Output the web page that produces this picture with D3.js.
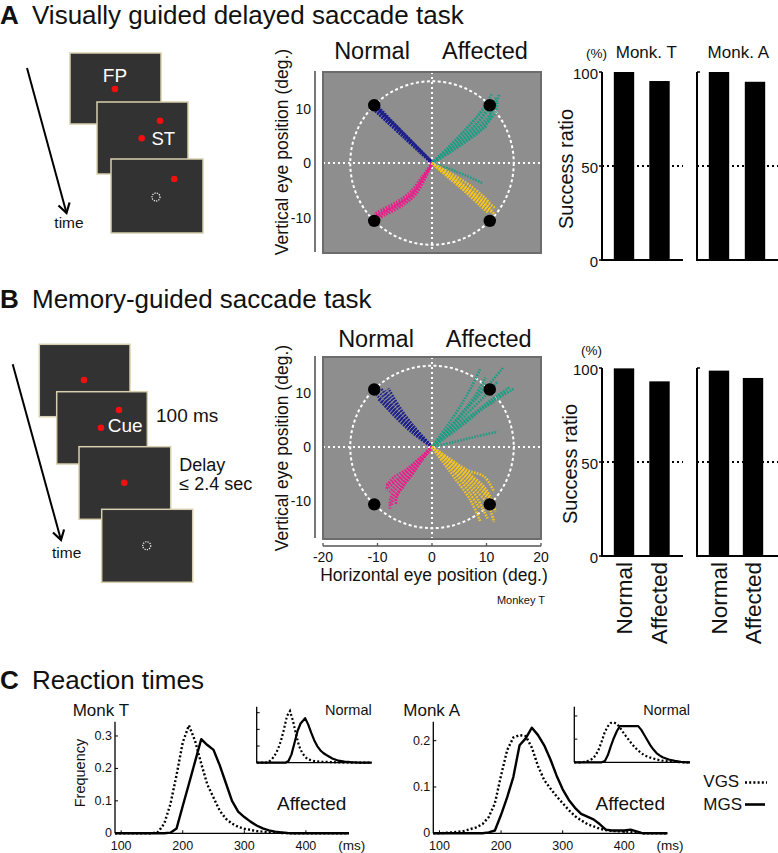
<!DOCTYPE html>
<html><head><meta charset="utf-8">
<script src="https://cdn.jsdelivr.net/npm/d3@7/dist/d3.min.js"></script>
<style>body{margin:0;background:#fff}svg{display:block}</style>
</head><body>
<svg id="fig" width="778" height="853"></svg>
<script>
// ---------------- DATA ----------------
const barCategories = ["Normal", "Affected"];
const vgsSuccessMonkT = [100, 95.2];
const vgsSuccessMonkA = [100, 94.8];
const mgsSuccessMonkT = [99.8, 92.9];
const mgsSuccessMonkA = [98.6, 94.7];
const successTicks = [0, 50, 100];

const eyeTicksY = [-10, 0, 10];
const eyeTicksX = [-20, -10, 0, 10, 20];
const targetPositions = [[-10.6, 10.6], [10.6, 10.6], [-10.6, -10.6], [10.6, -10.6]];

// Visually guided saccade trajectories (deg)
const vgsNormalUp = [
  [[0,0],[-5.2,5.1],[-10.5,10.3]],
  [[0,0],[-5.0,5.0],[-10.2,10.0]],
  [[0,0],[-5.3,4.9],[-10.7,9.9]],
  [[0.2,0],[-5.1,5.2],[-10.4,10.4]],
  [[0,0.2],[-4.9,5.2],[-10.0,10.2]],
  [[0,-0.1],[-5.3,4.8],[-10.6,9.7]],
  [[0,0],[-5.1,4.7],[-10.3,9.6]],
  [[0,0],[-4.8,5.0],[-9.9,10.4]]
];
const vgsNormalDown = [
  [[0,-0.3],[-1.7,-2.8],[-3.6,-5.5],[-6,-7.3],[-9.1,-8.9],[-10.4,-9.7]],
  [[0,0],[-1.5,-3],[-3.4,-5.8],[-5.8,-7.6],[-8.8,-9.2],[-10.2,-10]],
  [[0,0],[-1.9,-2.6],[-3.9,-5.2],[-6.3,-7],[-9.3,-8.6],[-10.6,-9.4]],
  [[0,0],[-1.6,-2.9],[-3.5,-5.6],[-6.1,-7.5],[-9,-9.1],[-10.3,-9.9]],
  [[0,0],[-1.4,-3.1],[-3.2,-6],[-5.6,-7.9],[-8.6,-9.5],[-10.1,-10.3]]
];
const vgsAffectedUp = [
  [[0,0],[3,1.8],[6,3.8],[9,6],[10.5,8],[11,10.5]],
  [[0,0],[3,2.2],[6,4.5],[9,7.2],[11,9.5],[12.3,12.5]],
  [[0,0],[3,2.5],[6,5],[8.5,7.5],[10.5,10],[11.8,12]],
  [[0,0],[3,2],[6,4],[9,6.2],[10.2,6.8]],
  [[0,0],[3,2.4],[6,5.2],[8.8,8],[10.5,10.8]],
  [[0,0],[3.2,1.9],[6.5,4.2],[9.5,6.5],[11.2,8.8]],
  [[0,0],[2.8,2.6],[5.5,5.4],[8,8.2],[10,10.6],[11.3,11.4]],
  [[0,0],[3,2.1],[6.2,4.6],[9.3,7],[11.6,9.2],[12,11.4]],
  [[0,0],[2.9,2.8],[5.8,5.8],[8.4,8.6],[10.2,11.2],[11,12.8]],
  [[0,0],[3,-1],[6,-2.2],[9.3,-3.7]]
];
const vgsAffectedDown = [
  [[0,0],[3,-2.3],[6,-4.8],[9,-7.3],[11.2,-9.2]],
  [[0,0],[3,-2],[6,-4.3],[9,-6.8],[11,-8.6]],
  [[0,0],[3.2,-2.6],[6.2,-5.2],[9,-7.6],[10.6,-9]],
  [[0,0],[3,-2.2],[6,-4.5],[9.2,-7],[11.5,-9.4]],
  [[0,0],[3.3,-1.8],[6.5,-3.8],[9.3,-6],[10.6,-7.3]],
  [[0,0],[2.8,-2.5],[5.8,-5],[8.8,-7.8],[10.3,-9.1]],
  [[0,0],[3,-2.4],[6,-4.6],[8.6,-6.6],[10,-7.6]],
  [[0,0],[3.1,-2.1],[6.3,-4.4],[9.4,-6.6],[11.8,-8.4]]
];
// Memory-guided saccade trajectories (deg)
const mgsNormalUp = [
  [[0,0],[-3.4,3.8],[-6.5,7.6],[-8.6,10.4]],
  [[0,0],[-3.5,3.3],[-6.8,6.9],[-9.8,10.2]],
  [[0,0],[-3.3,2.8],[-6.6,6.2],[-8.8,8.6]],
  [[0,0],[-3.6,3.0],[-7.2,6.8],[-10.2,9.6]],
  [[0,0],[-3.2,3.6],[-6,7.4],[-8,10.8]],
  [[0,0],[-3.5,2.5],[-7,5.8],[-9.3,8.4]],
  [[0,0],[-3.4,3.2],[-6.9,7.2],[-9.4,10.9]],
  [[0,0],[-3.6,2.9],[-7.4,6.4],[-9.9,8.9]]
];
const mgsNormalDown = [
  [[0,0],[-2,-2],[-4,-4],[-6,-5.8],[-8.2,-7.8]],
  [[0,0],[-2,-2.5],[-4.2,-5],[-6.2,-7.2],[-7.6,-9.5],[-7.7,-11.4]],
  [[0,0],[-1.8,-2.4],[-3.8,-5],[-5.8,-7.5],[-6.8,-10.2]],
  [[0,0],[-2.2,-2.2],[-4.5,-4.4],[-6.8,-6.2],[-8.4,-7]],
  [[0,0],[-2,-2.6],[-4,-5.3],[-5.6,-7.8],[-7,-9.2],[-7.4,-10.8]],
  [[0,0],[-2.1,-2.3],[-4.4,-4.8],[-6.6,-7],[-7.8,-8.4]],
  [[0,0],[-1.9,-2.5],[-3.7,-5.2],[-5.3,-7.2],[-6.5,-9.3],[-6.6,-10.6]],
  [[0,0],[-2.3,-2.1],[-4.8,-4.2],[-7,-5.6],[-8,-6.8],[-8.4,-8]]
];
const mgsAffectedUp = [
  [[0,0],[2.5,3.5],[5,7.2],[7.2,11],[8.9,14.5]],
  [[0,0],[3,3.4],[6.5,7.2],[10,11],[13.1,14.7]],
  [[0,0],[3.5,3],[7.5,6],[11.5,8.6],[15.1,10.8]],
  [[0,0],[3.2,3],[6.8,6.5],[9.8,9.5],[12,12]],
  [[0,0],[4,0.9],[8,1.9],[12,2.8]],
  [[0,0],[3.5,2.6],[7,5.2],[9.5,7.2],[11.4,8.3]],
  [[0,0],[3,3.2],[6,6.6],[8.5,9.8],[10,11.8]],
  [[0,0],[3.4,2.4],[6.8,5],[10,7.8],[13.6,10.2]],
  [[0,0],[2.8,3],[5.6,6.4],[8,9.6],[9.8,12.8]],
  [[0,0],[3.6,2.8],[7.2,5.8],[10.8,8.6],[14.2,11]]
];
const mgsAffectedDown = [
  [[0,0],[3,-2],[6.5,-4.3],[9.6,-5.5],[11.4,-8.3]],
  [[0,0],[2,-2.8],[4,-5.5],[7.1,-9.9],[8.9,-13.9]],
  [[0,0],[2.8,-2.5],[6,-5.5],[8.6,-8.6],[10.2,-10.5],[11.4,-13.9]],
  [[0,0],[2.6,-2.6],[5.4,-5.6],[7.8,-8.6],[9.4,-11.6],[10.2,-13.2]],
  [[0,0],[3,-2.2],[6.2,-4.8],[8.8,-7],[10.6,-9.6]],
  [[0,0],[2.4,-2.8],[5,-5.8],[7,-8.6],[8.6,-11.2]],
  [[0,0],[3.2,-2.4],[6.8,-5],[9.4,-7.2],[11,-9.8],[11.6,-12]],
  [[0,0],[2.7,-2.2],[5.6,-4.6],[8.4,-7.4],[10,-9.2]]
];

// Reaction time distributions [ms, frequency]
const rtTicksMs = [100, 200, 300, 400];
const rtFreqTicksT = [0, 0.1, 0.2, 0.3];
const rtFreqTicksA = [0, 0.1, 0.2];
const insetTicksT = [0.1, 0.2, 0.3];
const insetTicksA = [0.1, 0.2];

const rtMonkTAffectedVGS = [[90,0],[150,0],[160,0.004],[170,0.03],[180,0.09],[190,0.18],[200,0.28],[210,0.333],[220,0.285],[230,0.215],[240,0.15],[250,0.11],[260,0.07],[270,0.045],[280,0.03],[290,0.02],[300,0.014],[320,0.007],[340,0.003],[360,0.001],[380,0],[470,0]];
const rtMonkTAffectedMGS = [[90,0],[170,0],[180,0.002],[190,0.015],[200,0.084],[210,0.152],[220,0.221],[230,0.29],[240,0.272],[250,0.257],[260,0.21],[270,0.155],[280,0.1],[290,0.067],[300,0.05],[310,0.036],[320,0.024],[330,0.015],[340,0.009],[350,0.005],[360,0.003],[370,0.001],[380,0],[470,0]];
const rtMonkTNormalVGS = [[90,0],[120,0],[130,0.005],[140,0.02],[150,0.045],[160,0.08],[170,0.13],[180,0.2],[190,0.28],[200,0.31],[210,0.25],[220,0.17],[230,0.1],[240,0.06],[250,0.035],[260,0.02],[280,0.01],[300,0.006],[330,0.004],[360,0.002],[400,0],[470,0]];
const rtMonkTNormalMGS = [[90,0],[185,0],[195,0.01],[205,0.05],[215,0.12],[225,0.19],[235,0.235],[250,0.267],[260,0.23],[270,0.18],[280,0.135],[290,0.1],[300,0.075],[310,0.058],[320,0.046],[340,0.025],[360,0.012],[380,0.006],[400,0.003],[430,0],[470,0]];
const rtMonkAAffectedVGS = [[90,0],[100,0],[120,0.002],[140,0.005],[160,0.013],[170,0.02],[180,0.035],[190,0.065],[200,0.125],[210,0.18],[220,0.207],[230,0.212],[240,0.21],[250,0.185],[260,0.145],[270,0.115],[280,0.097],[290,0.08],[300,0.065],[310,0.05],[320,0.037],[330,0.028],[340,0.02],[350,0.015],[360,0.01],[370,0.007],[380,0.005],[400,0.004],[420,0.002],[430,0],[470,0]];
const rtMonkAAffectedMGS = [[90,0],[170,0],[180,0.002],[190,0.006],[200,0.04],[210,0.078],[220,0.122],[230,0.19],[240,0.205],[250,0.228],[260,0.212],[270,0.19],[280,0.16],[290,0.125],[300,0.095],[310,0.072],[320,0.055],[330,0.042],[340,0.036],[350,0.03],[360,0.02],[370,0.008],[380,0.006],[400,0.006],[410,0.008],[420,0.004],[430,0],[470,0]];
const rtMonkANormalVGS = [[90,0],[110,0],[130,0.003],[150,0.015],[160,0.03],[170,0.055],[180,0.09],[190,0.13],[200,0.155],[210,0.17],[220,0.172],[230,0.165],[240,0.15],[250,0.13],[260,0.112],[270,0.095],[280,0.078],[290,0.063],[300,0.05],[320,0.03],[340,0.02],[360,0.012],[380,0.007],[400,0.004],[420,0.002],[440,0],[470,0]];
const rtMonkANormalMGS = [[90,0],[180,0],[190,0.005],[200,0.03],[210,0.07],[220,0.105],[230,0.135],[240,0.156],[300,0.156],[310,0.14],[320,0.118],[330,0.095],[340,0.073],[350,0.055],[360,0.04],[370,0.03],[380,0.022],[400,0.012],[420,0.006],[440,0.002],[460,0],[470,0]];

// ---------------- DRAWING ----------------
const FONT = "'Liberation Sans', Arial, Helvetica, sans-serif";
const svg = d3.select("#fig").style("font-family", FONT);
svg.append("rect").attr("width", 778).attr("height", 853).attr("fill", "#fff");

function txt(x, y, s, size, opts = {}) {
  const t = svg.append("text").attr("x", x).attr("y", y).attr("font-size", size)
    .attr("fill", opts.fill || "#111").attr("text-anchor", opts.anchor || "start").text(s);
  if (opts.bold) t.attr("font-weight", "bold");
  if (opts.rotate) t.attr("transform", `rotate(-90,${x},${y})`);
  if (opts.baseline) t.attr("dominant-baseline", opts.baseline);
  return t;
}

// Titles
txt(0, 24, "A", 26, {bold: true});
txt(32, 24, "Visually guided delayed saccade task", 26);
txt(0, 308, "B", 26, {bold: true});
txt(32, 308, "Memory-guided saccade task", 26);
txt(0, 689, "C", 26, {bold: true});
txt(32, 689, "Reaction times", 26);

// ---- Schematics ----
const RED = "#f01010";
function screen(x, y, w, h) {
  svg.append("rect").attr("x", x).attr("y", y).attr("width", w).attr("height", h)
    .attr("fill", "#323232").attr("stroke", "#d8cfae").attr("stroke-width", 1.5);
}
function dot(x, y) { svg.append("circle").attr("cx", x).attr("cy", y).attr("r", 3.3).attr("fill", RED); }
function ring(x, y) {
  svg.append("circle").attr("cx", x).attr("cy", y).attr("r", 4).attr("fill", "none")
    .attr("stroke", "#eee").attr("stroke-width", 1.3).attr("stroke-dasharray", "1.2,1.2");
}
function arrow(x1, y1, x2, y2) {
  svg.append("line").attr("x1", x1).attr("y1", y1).attr("x2", x2).attr("y2", y2)
    .attr("stroke", "#000").attr("stroke-width", 2);
  const a = Math.atan2(y2 - y1, x2 - x1), L = 11, sp = 0.55;
  const p = [[x2 - L * Math.cos(a - sp), y2 - L * Math.sin(a - sp)], [x2, y2], [x2 - L * Math.cos(a + sp), y2 - L * Math.sin(a + sp)]];
  svg.append("path").attr("d", d3.line()(p)).attr("fill", "none").attr("stroke", "#000").attr("stroke-width", 2.2);
}
// A schematic
screen(70, 53, 91, 71); txt(115, 82, "FP", 19, {fill: "#fff", anchor: "middle"}); dot(115, 89);
screen(97, 102, 91, 72); dot(160, 120.7); dot(141.7, 138.3); txt(151.5, 145, "ST", 18.5, {fill: "#fff"});
screen(111, 159, 92, 74); dot(174.3, 179); ring(156, 197);
arrow(27, 68, 66.5, 213);
txt(69, 228, "time", 15.5, {anchor: "middle"});
// B schematic
screen(39.3, 344.3, 90.7, 72.4); dot(84, 380);
screen(56.7, 391.7, 90.6, 72.3); dot(119, 410); dot(101, 427.7); txt(107.7, 431.7, "Cue", 19, {fill: "#fff"});
screen(79, 446.7, 91.7, 72.6); dot(124.3, 482.7);
screen(101.7, 509.3, 91, 73); ring(146.7, 545.7);
arrow(12.7, 364.3, 61, 540);
txt(66.7, 557.5, "time", 15.5, {anchor: "middle"});
txt(156, 421.7, "100 ms", 19);
txt(179.3, 470.5, "Delay", 18);
txt(179.3, 489.5, "\u2264 2.4 sec", 18);

// ---- Scatter panels ----
const COL = {up: "#1c1f8c", down: "#ec1c8c", affUp: "#1b9e84", affDown: "#f7c51e"};
function scatter(id, box, yDom, sets, showX) {
  const x = d3.scaleLinear().domain([-20, 20]).range([box.x0, box.x1]);
  const y = d3.scaleLinear().domain(yDom).range([box.y1, box.y0]);
  const g = svg.append("g");
  g.append("clipPath").attr("id", id).append("rect")
    .attr("x", box.x0).attr("y", box.y0).attr("width", box.x1 - box.x0).attr("height", box.y1 - box.y0);
  g.append("rect").attr("x", box.x0).attr("y", box.y0).attr("width", box.x1 - box.x0).attr("height", box.y1 - box.y0)
    .attr("fill", "#8e8e8e");
  const inner = g.append("g").attr("clip-path", `url(#${id})`);
  inner.append("line").attr("x1", x(0)).attr("x2", x(0)).attr("y1", box.y0).attr("y2", box.y1)
    .attr("stroke", "#fff").attr("stroke-width", 2).attr("stroke-dasharray", "2,3");
  inner.append("line").attr("x1", box.x0).attr("x2", box.x1).attr("y1", y(0)).attr("y2", y(0))
    .attr("stroke", "#fff").attr("stroke-width", 2).attr("stroke-dasharray", "2,3");
  inner.append("ellipse").attr("cx", x(0)).attr("cy", y(0)).attr("rx", x(15) - x(0)).attr("ry", y(0) - y(15))
    .attr("fill", "none").attr("stroke", "#fff").attr("stroke-width", 2).attr("stroke-dasharray", "3,2.5");
  const line = d3.line().x(d => x(d[0])).y(d => y(d[1])).curve(d3.curveCatmullRom);
  sets.forEach(s => {
    inner.selectAll(null).data(s.data).enter().append("path").attr("d", line)
      .attr("fill", "none").attr("stroke", s.color).attr("stroke-width", 2.6).attr("stroke-dasharray", "1.6,1.3");
  });
  inner.selectAll(null).data(targetPositions).enter().append("circle")
    .attr("cx", d => x(d[0])).attr("cy", d => y(d[1])).attr("r", 6.2).attr("fill", "#000");
  g.append("rect").attr("x", box.x0).attr("y", box.y0).attr("width", box.x1 - box.x0).attr("height", box.y1 - box.y0)
    .attr("fill", "none").attr("stroke", "#6c6c6c").attr("stroke-width", 2);
  // left y axis line
  g.append("line").attr("x1", 315).attr("x2", 315).attr("y1", box.y0 - 1).attr("y2", box.y1 - 1)
    .attr("stroke", "#555").attr("stroke-width", 1.6);
  eyeTicksY.forEach(v => {
    g.append("text").attr("x", 311).attr("y", y(v)).attr("dominant-baseline", "central").attr("text-anchor", "end")
      .attr("font-size", 14).attr("fill", "#111").text(v);
  });
  if (showX) {
    const ay = box.y1 + 7;
    g.append("line").attr("x1", x(-20)).attr("x2", x(20)).attr("y1", ay).attr("y2", ay).attr("stroke", "#555").attr("stroke-width", 1.6);
    eyeTicksX.forEach(v => {
      g.append("line").attr("x1", x(v)).attr("x2", x(v)).attr("y1", ay).attr("y2", ay - 3).attr("stroke", "#555").attr("stroke-width", 1.3);
      g.append("text").attr("x", x(v)).attr("y", ay + 16).attr("text-anchor", "middle").attr("font-size", 14).attr("fill", "#111").text(v);
    });
  }
  return {x, y};
}
scatter("clipA", {x0: 323, x1: 541, y0: 72, y1: 253}, [-16.5, 16.7],
  [{data: vgsNormalUp, color: COL.up}, {data: vgsNormalDown, color: COL.down},
   {data: vgsAffectedUp, color: COL.affUp}, {data: vgsAffectedDown, color: COL.affDown}], false);
scatter("clipB", {x0: 323, x1: 541, y0: 357, y1: 539}, [-17, 16.6],
  [{data: mgsNormalUp, color: COL.up}, {data: mgsNormalDown, color: COL.down},
   {data: mgsAffectedUp, color: COL.affUp}, {data: mgsAffectedDown, color: COL.affDown}], true);

txt(372, 59, "Normal", 23.5, {anchor: "middle"});
txt(485, 59, "Affected", 23.5, {anchor: "middle"});
txt(376, 347, "Normal", 23.5, {anchor: "middle"});
txt(488.7, 347, "Affected", 23.5, {anchor: "middle"});
txt(282, 152, "Vertical eye position (deg.)", 17.5, {anchor: "middle", rotate: true, baseline: "central"});
txt(282, 448, "Vertical eye position (deg.)", 17.5, {anchor: "middle", rotate: true, baseline: "central"});
txt(434, 581, "Horizontal eye position (deg.)", 17.5, {anchor: "middle"});
txt(545, 604, "Monkey T", 11, {anchor: "end"});

// ---- Success ratio bars ----
function bars(axisX, y0, y100, centers, values, extent, firstPanel) {
  const y = d3.scaleLinear().domain([0, 100]).range([y0, y100]);
  const x = d3.scalePoint().domain(barCategories).range(centers);
  const g = svg.append("g");
  g.selectAll(null).data(values).enter().append("rect")
    .attr("x", (d, i) => x(barCategories[i]) - 10.2).attr("width", 20.4)
    .attr("y", d => y(d)).attr("height", d => y0 - y(d)).attr("fill", "#000");
  g.append("line").attr("x1", axisX).attr("x2", axisX + extent).attr("y1", y(50)).attr("y2", y(50))
    .attr("stroke", "#000").attr("stroke-width", 2).attr("stroke-dasharray", "2,3");
  g.append("line").attr("x1", axisX).attr("x2", axisX).attr("y1", y(100)).attr("y2", y0).attr("stroke", "#000").attr("stroke-width", 2);
  g.append("line").attr("x1", axisX - 1).attr("x2", axisX + extent).attr("y1", y0).attr("y2", y0).attr("stroke", "#000").attr("stroke-width", 2);
  if (firstPanel) {
    successTicks.forEach(v => {
      g.append("line").attr("x1", axisX - 3).attr("x2", axisX).attr("y1", y(v)).attr("y2", y(v)).attr("stroke", "#000").attr("stroke-width", 1.5);
      g.append("text").attr("x", axisX - 4).attr("y", y(v) + 1).attr("dominant-baseline", "central").attr("text-anchor", "end")
        .attr("font-size", 15).attr("fill", "#111").text(v);
    });
  } else {
    g.append("line").attr("x1", axisX).attr("x2", axisX + 3).attr("y1", y(100)).attr("y2", y(100)).attr("stroke", "#000").attr("stroke-width", 1.5);
  }
  return x;
}
bars(602, 260, 72, [624, 659.5], vgsSuccessMonkT, 81, true);
bars(697, 260, 72, [719, 755], vgsSuccessMonkA, 81, false);
const xbT = bars(602, 556, 368, [624, 659.5], mgsSuccessMonkT, 81, true);
const xbA = bars(697, 556, 368, [719, 753], mgsSuccessMonkA, 81, false);
txt(596.5, 58, "(%)", 13.5, {anchor: "middle"});
txt(646.3, 58, "Monk. T", 17, {anchor: "middle"});
txt(738.3, 58, "Monk. A", 17, {anchor: "middle"});
txt(591.5, 355, "(%)", 13.5, {anchor: "middle"});
txt(566, 169, "Success ratio", 20, {anchor: "middle", rotate: true, baseline: "central"});
txt(570, 464, "Success ratio", 20, {anchor: "middle", rotate: true, baseline: "central"});
barCategories.forEach(c => {
  txt(xbT(c), 562, c, 22.5, {anchor: "end", rotate: true, baseline: "central"});
  txt(xbA(c), 562, c, 22.5, {anchor: "end", rotate: true, baseline: "central"});
});

// ---- Reaction time plots ----
function rtPlot(x0, x1, yb, yt, ymax, ticks, series, main) {
  const x = d3.scaleLinear().domain([90, 470]).range([x0, x1]);
  const y = d3.scaleLinear().domain([0, ymax]).range([yb, yt]);
  const g = svg.append("g");
  g.append("line").attr("x1", x0).attr("x2", x0).attr("y1", yt).attr("y2", yb).attr("stroke", "#000").attr("stroke-width", 1.3);
  g.append("line").attr("x1", x0).attr("x2", x1).attr("y1", yb).attr("y2", yb).attr("stroke", "#000").attr("stroke-width", 1.3);
  ticks.forEach(v => {
    g.append("line").attr("x1", x0).attr("x2", x0 + 3).attr("y1", y(v)).attr("y2", y(v)).attr("stroke", "#000").attr("stroke-width", 1);
    if (main) g.append("text").attr("x", x0 - 3).attr("y", y(v)).attr("dominant-baseline", "central").attr("text-anchor", "end")
      .attr("font-size", 12.5).attr("fill", "#111").text(v);
  });
  if (main) {
    rtTicksMs.forEach(v => {
      g.append("line").attr("x1", x(v)).attr("x2", x(v)).attr("y1", yb).attr("y2", yb - 3).attr("stroke", "#000").attr("stroke-width", 1);
      g.append("text").attr("x", x(v)).attr("y", yb + 17).attr("text-anchor", "middle").attr("font-size", 12.5).attr("fill", "#111").text(v);
    });
  }
  const line = d3.line().x(d => x(d[0])).y(d => y(d[1]));
  g.append("path").attr("d", line(series.vgs)).attr("fill", "none").attr("stroke", "#000")
    .attr("stroke-width", main ? 2.4 : 2.2).attr("stroke-dasharray", "2,2.2");
  g.append("path").attr("d", line(series.mgs)).attr("fill", "none").attr("stroke", "#000")
    .attr("stroke-width", main ? 2.4 : 2.2).attr("stroke-linejoin", "round");
}
rtPlot(115, 349, 833.3, 721.7, 0.344, rtFreqTicksT, {vgs: rtMonkTAffectedVGS, mgs: rtMonkTAffectedMGS}, true);
rtPlot(256.7, 371.7, 762.7, 706.7, 0.336, insetTicksT, {vgs: rtMonkTNormalVGS, mgs: rtMonkTNormalMGS}, false);
rtPlot(433.3, 667.4, 833.3, 721.7, 0.241, rtFreqTicksA, {vgs: rtMonkAAffectedVGS, mgs: rtMonkAAffectedMGS}, true);
rtPlot(574.3, 690, 762.3, 706.7, 0.24, insetTicksA, {vgs: rtMonkANormalVGS, mgs: rtMonkANormalMGS}, false);

txt(351.7, 850, "(ms)", 13.5, {anchor: "middle"});
txt(670, 850, "(ms)", 13.5, {anchor: "middle"});
txt(80, 773, "Frequency", 14.5, {anchor: "middle", rotate: true, baseline: "central"});
txt(72.7, 716, "Monk T", 17, {});
txt(403.3, 716, "Monk A", 17, {});
txt(311.7, 810, "Affected", 19, {anchor: "middle"});
txt(630.3, 810, "Affected", 19, {anchor: "middle"});
txt(371.7, 715, "Normal", 14.5, {anchor: "end"});
txt(690, 715, "Normal", 14.5, {anchor: "end"});
// legend
txt(703.3, 787.3, "VGS", 17, {});
svg.append("line").attr("x1", 745).attr("x2", 767).attr("y1", 782.5).attr("y2", 782.5).attr("stroke", "#000").attr("stroke-width", 2.4).attr("stroke-dasharray", "2,2.2");
txt(703.3, 810, "MGS", 17, {});
svg.append("line").attr("x1", 745).attr("x2", 765).attr("y1", 804.5).attr("y2", 804.5).attr("stroke", "#000").attr("stroke-width", 2.6);
</script>
</body></html>
